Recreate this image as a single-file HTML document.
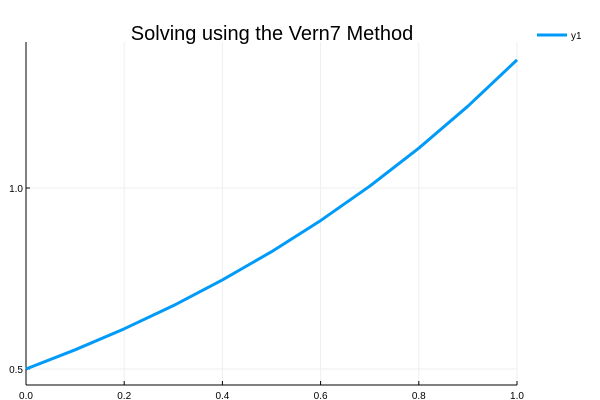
<!DOCTYPE html>
<html><head><meta charset="utf-8"><style>
body{margin:0;background:#fff}
svg{display:block;font-family:"Liberation Sans",sans-serif}
</style></head><body>
<svg id="chart" width="600" height="400" xmlns="http://www.w3.org/2000/svg">
<g id="grid"></g>
<g id="axes"></g>
<path id="line" fill="none" stroke="#009af9" stroke-width="3" stroke-linejoin="round"/>
<text x="272" y="40" font-size="20" text-anchor="middle" fill="#000">Solving using the Vern7 Method</text>
<g>
<line x1="537" y1="35" x2="567" y2="35" stroke="#009af9" stroke-width="3"/>
<text x="571" y="39" font-size="10">y1</text>
</g>
</svg>
<script>
const xs=[0,0.1,0.2,0.3,0.4,0.5,0.6,0.7,0.8,0.9,1.0];
const ys=[0.5,0.553,0.611,0.675,0.746,0.824,0.91,1.005,1.11,1.226,1.354];
const xTicks=[0,0.2,0.4,0.6,0.8,1.0];
const xTickLabels=["0.0","0.2","0.4","0.6","0.8","1.0"];
const yTicks=[0.5,1.0];
const yTickLabels=["0.5","1.0"];
const L=26,R=517,T=42,B=385;
const sx=v=>L+(v-0)/(1-0)*(R-L);
const sy=v=>369-(v-0.5)*362;
const NS="http://www.w3.org/2000/svg";
const grid=document.getElementById('grid'),axes=document.getElementById('axes');
function mk(tag,attrs,parent){const e=document.createElementNS(NS,tag);for(const k in attrs)e.setAttribute(k,attrs[k]);parent.appendChild(e);return e;}
xTicks.forEach((t,i)=>{
 const g=mk('line',{x1:sx(t),x2:sx(t),y1:T,y2:B,stroke:'#efefef','stroke-width':1},grid);
 
 
 const tk=mk('line',{x1:sx(t),x2:sx(t),y1:B,y2:B-4,stroke:'#000'},axes);
 
 
 const tx=mk('text',{x:sx(t),y:B+14,'font-size':10,'text-anchor':'middle'},axes);
 tx.textContent=xTickLabels[i];
 
 
});
yTicks.forEach((t,i)=>{
 const g=mk('line',{x1:L,x2:R,y1:sy(t),y2:sy(t),stroke:'#efefef','stroke-width':1},grid);
 
 
 const tk=mk('line',{x1:L,x2:L+4,y1:sy(t),y2:sy(t),stroke:'#000'},axes);
 
 
 const tx=mk('text',{x:L-3,y:sy(t)+4,'font-size':10,'text-anchor':'end'},axes);
 tx.textContent=yTickLabels[i];
 
 
});
const xa=mk('line',{x1:L,x2:R,y1:B,y2:B,stroke:'#000'},axes);


const ya=mk('line',{x1:L,x2:L,y1:T,y2:B,stroke:'#000'},axes);


document.getElementById('line').setAttribute('d',xs.map((x,i)=>(i?'L':'M')+sx(x)+','+sy(ys[i])).join(' '));
</script>
</body></html>
